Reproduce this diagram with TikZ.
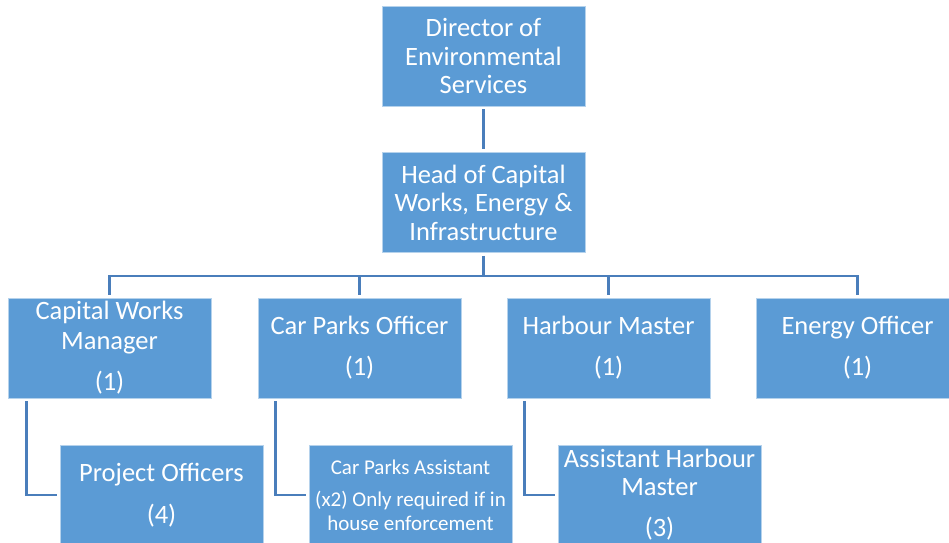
\documentclass[tikz,border=0pt]{standalone}
\usepackage{fontspec}
\setmainfont{Carlito}
\definecolor{boxblue}{HTML}{5B9BD5}
\definecolor{linkblue}{HTML}{4A7EBB}
\begin{document}
\begin{tikzpicture}[x=1pt, y=-1pt, >=latex,
          box/.style={draw=white!55!boxblue, line width=0.8pt, fill=boxblue, text=white, align=center,
            minimum width=203pt, minimum height=100pt, inner sep=0pt, font=\fontsize{26.5}{28.5}\selectfont},
          row/.style={box, font=\fontsize{26.5}{30}\selectfont},
          link/.style={draw=linkblue, line width=2.4pt, shorten >=3pt, shorten <=3pt}]
        \useasboundingbox (0,0) rectangle (949,542);
        \clip (0,0) rectangle (949,542);
        % top of the chart
        \node[box] (dir) at (483.5,56) {Director of\\Environmental\\Services};
        \node[box] (head) at (483.5,202.5) {Head of Capital\\Works, Energy \&\\Infrastructure};
        % second row
        \node[row] (cwm) at (109.5,348) {Capital Works\\Manager\\[11pt](1)};
        \node[row] (cpo) at (359.5,348) {Car Parks Officer\\[11pt](1)};
        \node[row] (hm) at (608.5,348) {Harbour Master\\[11pt](1)};
        \node[row] (eo) at (857.5,348) {Energy Officer\\[11pt](1)};
        % third row
        \node[row] (po) at (161.5,495) {Project Officers\\[12pt](4)};
        \node[box, font=\fontsize{21}{24}\selectfont] (cpa) at (410.5,495) {Car Parks Assistant\\[8pt](x2) Only required if in\\house enforcement};
        \node[box, font=\fontsize{26.5}{28}\selectfont] (ahm) at (659.5,495) {Assistant Harbour\\Master\\[13pt](3)};
        \coordinate (bus) at (483.5,276);
        \draw[link] (dir) -- (head);
        \draw[link, shorten >=0pt] (head) -- (bus);
        \foreach \b in {cwm,cpo,hm,eo}
          \draw[link, shorten <=0pt] (bus) -| (\b.north);
        \draw[link] ([xshift=19pt]cwm.south west) |- (po.west);
        \draw[link] ([xshift=18pt]cpo.south west) |- (cpa.west);
        \draw[link] ([xshift=18pt]hm.south west) |- (ahm.west);
      \end{tikzpicture}
\end{document}
